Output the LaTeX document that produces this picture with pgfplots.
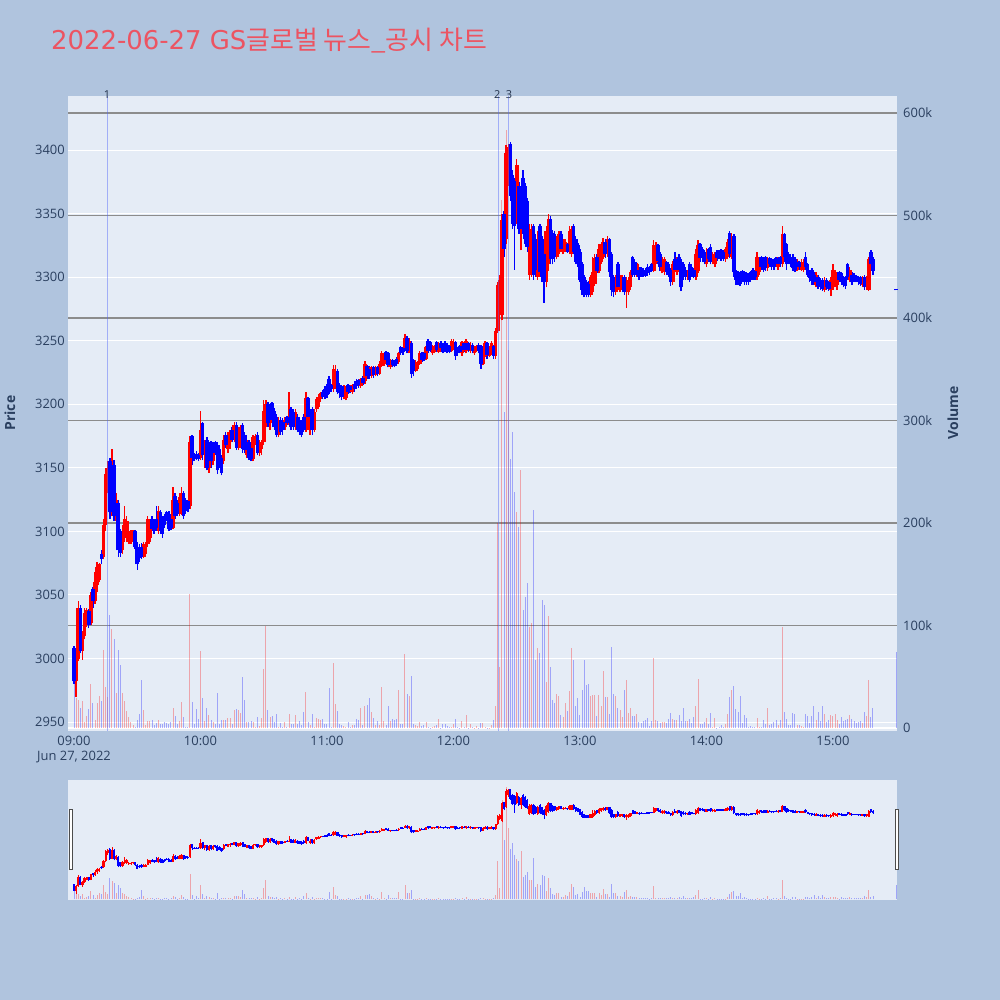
\documentclass[border=0pt]{standalone}
\usepackage{fontspec}
\setmainfont{Open Sans}
\newfontfamily\krfont{Noto Sans CJK KR}
\newfontfamily\titlefont{DejaVu Sans}
\usepackage{pgfplots}
\usepackage{pgfplotstable}
\pgfplotsset{compat=1.18}

\definecolor{pagebg}{RGB}{176,196,222}
\definecolor{plotbg}{RGB}{229,236,246}
\definecolor{txt}{RGB}{42,63,95}
\definecolor{titlecol}{RGB}{236,84,98}
\definecolor{vgrid}{RGB}{140,140,140}
\definecolor{vline}{RGB}{80,100,250}

% one-minute candles: minute after 09:00, open, high, low, close, volume (thousands)
\pgfplotstableread{
t o h l c v
0 3008 3010 2980 2982 44
1 2982 3005 2970 3000 29
2 3000 3045 2998 3040 27
3 3040 3042 3004 3006 20
4 3006 3022 2999 3018 26
5 3018 3040 3015 3036 6
6 3028 3040 3025 3038 12
7 3037 3039 3024 3026 19
8 3028 3052 3026 3050 43
9 3055 3056 3040 3045 24
10 3045 3068 3043 3060 8
11 3058 3076 3052 3072 24
12 3062 3075 3060 3074 31
13 3082 3085 3074 3078 26
14 3080 3110 3078 3105 76
15 3105 3150 3100 3145 40
16 3140 3155 3130 3150 30
17 3155 3158 3110 3115 110
18 3115 3165 3112 3152 97
19 3152 3156 3108 3112 87
20 3112 3130 3108 3125 34
21 3122 3125 3080 3085 76
22 3100 3102 3080 3083 61
23 3085 3105 3082 3100 34
24 3095 3120 3092 3110 26
25 3098 3112 3092 3108 17
26 3092 3100 3090 3098 11
27 3093 3101 3090 3099 6
28 3095 3101 3092 3100 3
29 3100 3101 3086 3088 1
30 3088 3092 3070 3074 8
31 3085 3090 3076 3079 14
32 3088 3091 3078 3080 47
33 3080 3092 3079 3090 18
34 3082 3092 3080 3090 3
35 3090 3112 3088 3110 7
36 3095 3110 3092 3108 7
37 3110 3112 3100 3102 8
38 3108 3110 3098 3100 3
39 3110 3120 3100 3103 5
40 3100 3120 3098 3116 8
41 3115 3117 3098 3100 4
42 3110 3112 3095 3098 4
43 3112 3114 3103 3105 6
44 3115 3116 3108 3110 5
45 3114 3116 3100 3102 4
46 3110 3112 3101 3103 6
47 3103 3135 3102 3125 20
48 3128 3130 3110 3112 12
49 3122 3125 3112 3114 4
50 3114 3130 3112 3127 7
51 3115 3135 3113 3130 25
52 3130 3132 3110 3112 11
53 3125 3126 3114 3116 1
54 3124 3125 3115 3118 1
55 3120 3175 3118 3170 131
56 3175 3176 3152 3158 25
57 3160 3162 3155 3157 4
58 3161 3163 3156 3158 19
59 3160 3162 3155 3157 9
60 3158 3195 3156 3180 75
61 3185 3186 3156 3160 29
62 3160 3172 3150 3170 7
63 3172 3174 3148 3150 20
64 3150 3170 3146 3166 13
65 3170 3171 3150 3155 8
66 3155 3170 3152 3168 6
67 3170 3171 3160 3162 4
68 3168 3170 3145 3148 34
69 3165 3168 3150 3152 4
70 3158 3160 3144 3146 8
71 3155 3176 3153 3172 8
72 3176 3178 3166 3168 8
73 3165 3178 3162 3176 10
74 3170 3180 3165 3178 10
75 3180 3182 3170 3172 4
76 3172 3186 3170 3184 18
77 3184 3186 3164 3166 19
78 3166 3182 3164 3180 18
79 3170 3184 3166 3182 15
80 3184 3185 3162 3165 50
81 3176 3178 3162 3164 27
82 3160 3172 3158 3170 6
83 3170 3172 3156 3158 6
84 3166 3168 3155 3157 7
85 3157 3176 3155 3174 6
86 3170 3177 3168 3175 1
87 3176 3178 3160 3162 11
88 3162 3172 3159 3170 2
89 3165 3172 3160 3170 10
90 3170 3203 3168 3195 58
91 3185 3203 3182 3200 100
92 3200 3202 3182 3185 18
93 3185 3200 3180 3196 11
94 3201 3202 3185 3188 12
95 3195 3197 3180 3182 6
96 3190 3192 3174 3176 14
97 3176 3190 3174 3188 1
98 3188 3190 3176 3178 5
99 3186 3189 3176 3180 1
100 3182 3190 3180 3188 6
101 3190 3191 3184 3185 1
102 3185 3210 3184 3190 14
103 3196 3198 3180 3182 4
104 3194 3196 3180 3182 4
105 3182 3196 3180 3194 13
106 3190 3192 3178 3180 4
107 3188 3190 3176 3178 7
108 3186 3188 3174 3176 3
109 3190 3192 3178 3180 16
110 3180 3210 3178 3205 35
111 3205 3206 3188 3190 6
112 3180 3196 3176 3190 3
113 3196 3198 3176 3180 14
114 3180 3196 3178 3194 1
115 3196 3206 3194 3204 10
116 3198 3208 3196 3206 9
117 3204 3210 3202 3209 8
118 3210 3211 3204 3206 9
119 3212 3214 3204 3206 4
120 3214 3216 3205 3207 4
121 3220 3222 3208 3210 39
122 3215 3216 3210 3212 1
123 3212 3231 3210 3228 63
124 3215 3231 3212 3226 23
125 3226 3228 3208 3210 17
126 3215 3217 3205 3209 4
127 3214 3215 3203 3206 3
128 3206 3215 3204 3213 2
129 3205 3214 3203 3212 1
130 3215 3216 3208 3210 6
131 3214 3215 3209 3211 1
132 3210 3216 3208 3215 3
133 3216 3218 3210 3212 3
134 3218 3220 3212 3214 9
135 3219 3220 3213 3215 8
136 3214 3221 3213 3220 20
137 3221 3222 3215 3217 3
138 3218 3234 3216 3232 21
139 3230 3231 3220 3222 22
140 3228 3230 3220 3222 29
141 3222 3230 3221 3229 16
142 3229 3230 3221 3223 10
143 3223 3230 3222 3228 3
144 3229 3230 3222 3224 7
145 3224 3234 3223 3232 3
146 3230 3242 3229 3240 40
147 3232 3240 3230 3238 7
148 3241 3242 3233 3235 3
149 3240 3241 3229 3231 21
150 3229 3236 3228 3235 7
151 3235 3236 3229 3231 9
152 3234 3235 3229 3230 8
153 3236 3237 3230 3232 9
154 3233 3241 3232 3240 37
155 3245 3246 3239 3240 4
156 3244 3245 3239 3241 4
157 3244 3255 3243 3252 72
158 3252 3254 3240 3242 33
159 3242 3252 3240 3250 31
160 3248 3250 3221 3224 51
161 3235 3236 3222 3226 4
162 3226 3235 3225 3233 3
163 3228 3234 3226 3232 2
164 3232 3242 3231 3240 6
165 3240 3241 3233 3235 2
166 3240 3241 3234 3236 3
167 3236 3246 3235 3245 6
168 3250 3251 3240 3242 1
169 3249 3250 3241 3243 0.5
170 3240 3247 3239 3245 1
171 3241 3247 3240 3246 2
172 3249 3250 3241 3243 3
173 3241 3249 3240 3247 9
174 3248 3250 3241 3244 0.5
175 3247 3248 3240 3242 4
176 3248 3250 3241 3243 4
177 3247 3248 3240 3242 2
178 3246 3247 3240 3241 1
179 3242 3251 3241 3250 1
180 3244 3251 3243 3249 4
181 3249 3250 3235 3238 9
182 3244 3245 3238 3240 1
183 3246 3247 3240 3241 0.5
184 3240 3250 3238 3249 7
185 3248 3249 3241 3243 1
186 3242 3251 3240 3250 13
187 3248 3249 3241 3243 0.5
188 3242 3249 3240 3247 4
189 3247 3248 3240 3242 1
190 3240 3246 3239 3245 0.5
191 3242 3247 3241 3246 2
192 3247 3248 3240 3242 0.5
193 3246 3247 3228 3232 5
194 3232 3246 3231 3244 5
195 3238 3250 3237 3248 1
196 3248 3249 3236 3239 0.5
197 3238 3246 3237 3245 0.5
198 3240 3250 3239 3248 3
199 3246 3247 3236 3238 8
200 3238 3260 3236 3258 21
201 3258 3296 3256 3294 200
202 3282 3302 3278 3298 60
203 3270 3350 3266 3345 515
204 3350 3352 3316 3322 308
205 3330 3404 3326 3398 583
206 3380 3405 3372 3402 369
207 3405 3406 3360 3364 262
208 3380 3384 3338 3342 289
209 3376 3378 3306 3340 230
210 3345 3393 3342 3388 211
211 3372 3375 3334 3338 196
212 3338 3372 3321 3368 252
213 3378 3384 3334 3338 115
214 3372 3374 3326 3330 128
215 3360 3362 3320 3324 141
216 3302 3342 3298 3336 99
217 3304 3342 3300 3338 102
218 3340 3342 3298 3302 213
219 3330 3334 3300 3306 66
220 3300 3336 3298 3330 78
221 3340 3342 3300 3304 73
222 3330 3332 3296 3300 125
223 3318 3320 3280 3296 120
224 3296 3340 3292 3336 45
225 3310 3350 3305 3346 109
226 3346 3348 3310 3314 60
227 3335 3337 3310 3314 27
228 3334 3336 3312 3316 24
229 3316 3332 3314 3330 33
230 3320 3336 3318 3334 31
231 3334 3336 3320 3322 13
232 3320 3330 3318 3328 11
233 3321 3330 3320 3328 24
234 3326 3327 3319 3320 17
235 3320 3340 3318 3336 36
236 3318 3340 3316 3338 78
237 3340 3342 3318 3320 66
238 3330 3332 3310 3312 21
239 3325 3327 3308 3310 29
240 3320 3322 3296 3298 13
241 3310 3312 3286 3290 37
242 3300 3302 3284 3286 66
243 3296 3298 3284 3286 42
244 3295 3297 3284 3286 43
245 3286 3302 3284 3300 31
246 3288 3316 3286 3304 32
247 3295 3318 3293 3315 32
248 3316 3318 3303 3305 12
249 3305 3326 3303 3322 32
250 3312 3326 3310 3324 21
251 3316 3331 3314 3328 56
252 3328 3330 3315 3318 30
253 3318 3332 3316 3330 30
254 3330 3331 3300 3304 14
255 3318 3320 3285 3290 79
256 3300 3302 3284 3288 33
257 3288 3302 3286 3300 31
258 3310 3312 3290 3292 20
259 3290 3302 3288 3300 18
260 3292 3302 3290 3300 11
261 3300 3302 3286 3288 37
262 3288 3300 3276 3296 47
263 3288 3300 3286 3298 15
264 3292 3306 3290 3304 20
265 3316 3317 3300 3302 12
266 3312 3314 3300 3302 12
267 3303 3311 3300 3310 14
268 3306 3308 3298 3300 6
269 3307 3308 3300 3302 5
270 3306 3307 3300 3302 7
271 3306 3307 3300 3301 8
272 3308 3310 3301 3303 10
273 3308 3309 3302 3304 2
274 3310 3311 3304 3305 7
275 3305 3329 3304 3325 68
276 3312 3328 3310 3324 8
277 3325 3326 3310 3313 7
278 3318 3320 3305 3308 5
279 3305 3316 3303 3314 6
280 3304 3316 3302 3314 6
281 3312 3313 3302 3304 5
282 3310 3312 3300 3302 9
283 3306 3307 3293 3296 15
284 3296 3313 3294 3310 9
285 3314 3320 3304 3306 8
286 3304 3316 3302 3314 8
287 3316 3318 3304 3306 13
288 3312 3314 3289 3292 7
289 3310 3312 3298 3300 20
290 3306 3308 3298 3300 7
291 3300 3306 3298 3305 7
292 3310 3312 3296 3298 9
293 3308 3310 3300 3302 5
294 3306 3307 3299 3300 11
295 3300 3322 3298 3318 21
296 3305 3329 3303 3325 48
297 3326 3327 3312 3315 4
298 3322 3324 3312 3316 4
299 3320 3321 3310 3312 6
300 3310 3323 3308 3320 10
301 3322 3323 3312 3314 4
302 3324 3326 3310 3312 15
303 3312 3320 3310 3318 1
304 3310 3320 3308 3318 10
305 3320 3321 3313 3315 0.5
306 3320 3321 3314 3315 1
307 3321 3322 3313 3315 3
308 3320 3321 3313 3314 1
309 3314 3324 3312 3322 4
310 3316 3330 3314 3328 14
311 3335 3336 3315 3318 30
312 3316 3335 3314 3332 37
313 3332 3334 3300 3304 41
314 3305 3306 3294 3298 19
315 3304 3305 3294 3296 16
316 3303 3304 3293 3295 31
317 3305 3306 3296 3298 5
318 3304 3305 3294 3296 13
319 3303 3304 3294 3296 10
320 3302 3303 3294 3296 1
321 3304 3305 3296 3298 2
322 3306 3307 3298 3300 1
323 3305 3306 3298 3300 1
324 3300 3320 3298 3316 10
325 3304 3316 3302 3314 1
326 3316 3317 3306 3308 1
327 3314 3316 3304 3306 8
328 3316 3317 3305 3307 4
329 3307 3316 3305 3314 20
330 3315 3316 3308 3310 3
331 3314 3315 3306 3308 4
332 3312 3313 3306 3308 6
333 3315 3316 3308 3310 8
334 3308 3316 3306 3315 3
335 3316 3317 3308 3310 8
336 3310 3340 3308 3334 99
337 3334 3335 3312 3316 16
338 3326 3327 3306 3310 9
339 3318 3320 3310 3312 3
340 3316 3318 3308 3310 3
341 3316 3318 3305 3307 15
342 3314 3316 3304 3306 14
343 3306 3314 3305 3312 3
344 3312 3313 3306 3308 3
345 3306 3314 3305 3312 2
346 3306 3314 3304 3312 1
347 3316 3320 3306 3308 14
348 3310 3311 3300 3302 12
349 3305 3306 3296 3299 5
350 3306 3307 3294 3297 12
351 3302 3304 3294 3296 21
352 3294 3304 3292 3302 8
353 3300 3302 3291 3293 16
354 3298 3299 3290 3292 7
355 3298 3299 3289 3291 21
356 3290 3300 3288 3298 14
357 3298 3299 3290 3292 6
358 3296 3297 3289 3291 8
359 3290 3300 3285 3298 13
360 3292 3310 3290 3306 12
361 3296 3306 3292 3304 14
362 3294 3304 3290 3302 8
363 3304 3305 3296 3298 4
364 3303 3304 3294 3296 11
365 3300 3301 3292 3294 7
366 3300 3301 3291 3293 8
367 3310 3311 3298 3300 9
368 3298 3308 3296 3306 13
369 3302 3304 3294 3296 9
370 3302 3303 3296 3297 7
371 3301 3302 3296 3297 5
372 3300 3301 3294 3296 6
373 3300 3301 3293 3295 7
374 3294 3301 3292 3300 5
375 3300 3302 3290 3292 16
376 3292 3301 3290 3300 12
377 3290 3316 3289 3314 47
378 3320 3321 3306 3310 11
379 3314 3316 3302 3305 20
390 3290.5 3290.5 3289.5 3289.5 74
}\candles

\pgfplotsset{
  /pgf/number format/assume math mode=true,
  /pgf/number format/1000 sep={},
  frame/.style={scale only axis, width=829bp, xmin=-2.85, xmax=390.4,
    anchor=south west, axis line style={draw=none}, tick style={draw=none},
    major tick length=0pt},
  upc/.style={restrict expr to domain={\thisrow{c}-\thisrow{o}}{0:10000}},
  dnc/.style={restrict expr to domain={\thisrow{c}-\thisrow{o}}{-10000:-0.001}},
}

% wicks and bodies; #1 wick width, #2 body width
\newcommand\candleplots[2]{%
  \addplot[red, line width=#1, mark=none, upc,
    quiver={u=0, v=\thisrow{h}-\thisrow{l}, every arrow/.append style={-}}]
    table[x=t, y=l] {\candles};
  \addplot[blue, line width=#1, mark=none, dnc,
    quiver={u=0, v=\thisrow{h}-\thisrow{l}, every arrow/.append style={-}}]
    table[x=t, y=l] {\candles};
  \addplot[red, line width=#2, mark=none, upc,
    quiver={u=0, v=\thisrow{c}-\thisrow{o}, every arrow/.append style={-}}]
    table[x=t, y=o] {\candles};
  \addplot[blue, line width=#2, mark=none, dnc,
    quiver={u=0, v=\thisrow{o}-\thisrow{c}, every arrow/.append style={-}}]
    table[x=t, y=c] {\candles};
}
\newcommand\volumeplots[1]{%
  \addplot[ycomb, draw=red, draw opacity=0.3, line width=#1, mark=none, upc]
    table[x=t, y=v] {\candles};
  \addplot[ycomb, draw=blue, draw opacity=0.3, line width=#1, mark=none, dnc]
    table[x=t, y=v] {\candles};
}

\begin{document}
\begin{tikzpicture}
\fill[pagebg] (0bp,0bp) rectangle (1000bp,1000bp);

\node[anchor=base west, inner sep=0pt, text=titlecol,
  font=\titlefont\fontsize{26}{30}\selectfont] at (51bp,950bp)
  {2022-06-27 GS{\krfont 글로벌 뉴스\_공시 차트}};

% price frame: background, white grid, left ticks, time axis
\begin{axis}[frame, at={(68bp,269bp)}, height=635bp,
  ymin=2943, ymax=3442.5,
  axis background/.style={fill=plotbg},
  ymajorgrids, grid style={white, line width=1bp},
  ytick={2950,3000,...,3400},
  yticklabel style={anchor=east, inner sep=0pt, xshift=-3bp,
    font=\fontsize{13}{15}\selectfont, text=txt},
  xtick={0,60,...,360},
  xticklabels={{09:00\\Jun 27, 2022},10:00,11:00,12:00,13:00,14:00,15:00},
  xticklabel style={align=center, anchor=north, inner sep=0pt, yshift=-5bp,
    font=\fontsize{13}{15}\selectfont, text=txt},
]
\end{axis}

% volume frame: grey grid, bars, right ticks
\begin{axis}[frame, at={(68bp,269bp)}, height=635bp,
  ymin=-2.9, ymax=616.6,
  xtick=\empty,
  ymajorgrids, grid style={vgrid, line width=1.5bp},
  ytick={100,200,...,600},
  yticklabels={100k,200k,300k,400k,500k,600k},
  extra y ticks={0}, extra y tick labels={0},
  extra y tick style={grid style={white, line width=2bp}},
  yticklabel pos=right,
  yticklabel style={anchor=west, inner sep=0pt, xshift=6bp,
    font=\fontsize{13}{15}\selectfont, text=txt},
]
\volumeplots{1bp}
\end{axis}

% candles and news lines
\begin{axis}[frame, at={(68bp,269bp)}, height=635bp,
  ymin=2943, ymax=3442.5, hide axis, clip=false]
\candleplots{1.4bp}{3.6bp}
\addplot[vline, opacity=0.45, line width=1bp] coordinates {(15.65,2943) (15.65,3442.5)};
\addplot[vline, opacity=0.45, line width=1bp] coordinates {(201.3,2943) (201.3,3442.5)};
\addplot[vline, opacity=0.45, line width=1bp] coordinates {(205.9,2943) (205.9,3442.5)};
\node[font=\fontsize{11}{12}\selectfont, text=txt!80!black, inner sep=0pt] at (axis cs:15.65,3442.5) [yshift=1bp] {1};
\node[font=\fontsize{11}{12}\selectfont, text=txt!80!black, inner sep=0pt] at (axis cs:201.3,3442.5) [yshift=1bp, xshift=-1bp] {2};
\node[font=\fontsize{11}{12}\selectfont, text=txt!80!black, inner sep=0pt] at (axis cs:205.9,3442.5) [yshift=1bp, xshift=1bp] {3};
\end{axis}

\node[rotate=90, font=\bfseries\fontsize{14}{16}\selectfont, text=txt] at (10bp,587bp) {Price};
\node[rotate=90, font=\bfseries\fontsize{14}{16}\selectfont, text=txt] at (953bp,587bp) {Volume};

% range slider
\fill[plotbg] (68bp,100bp) rectangle (897bp,220bp);
\begin{axis}[frame, at={(68bp,100bp)}, height=120bp,
  ymin=-2.9, ymax=616.6, hide axis]
\volumeplots{0.8bp}
\end{axis}
\begin{axis}[frame, at={(68bp,100bp)}, height=120bp,
  ymin=2943, ymax=3442.5, hide axis]
\candleplots{0.8bp}{2.2bp}
\end{axis}
\filldraw[fill=white, draw=black!70, line width=1bp] (69.5bp,130bp) rectangle (72.5bp,190bp);
\filldraw[fill=white, draw=black!70, line width=1bp] (895.5bp,130bp) rectangle (898.5bp,190bp);
\end{tikzpicture}
\end{document}
